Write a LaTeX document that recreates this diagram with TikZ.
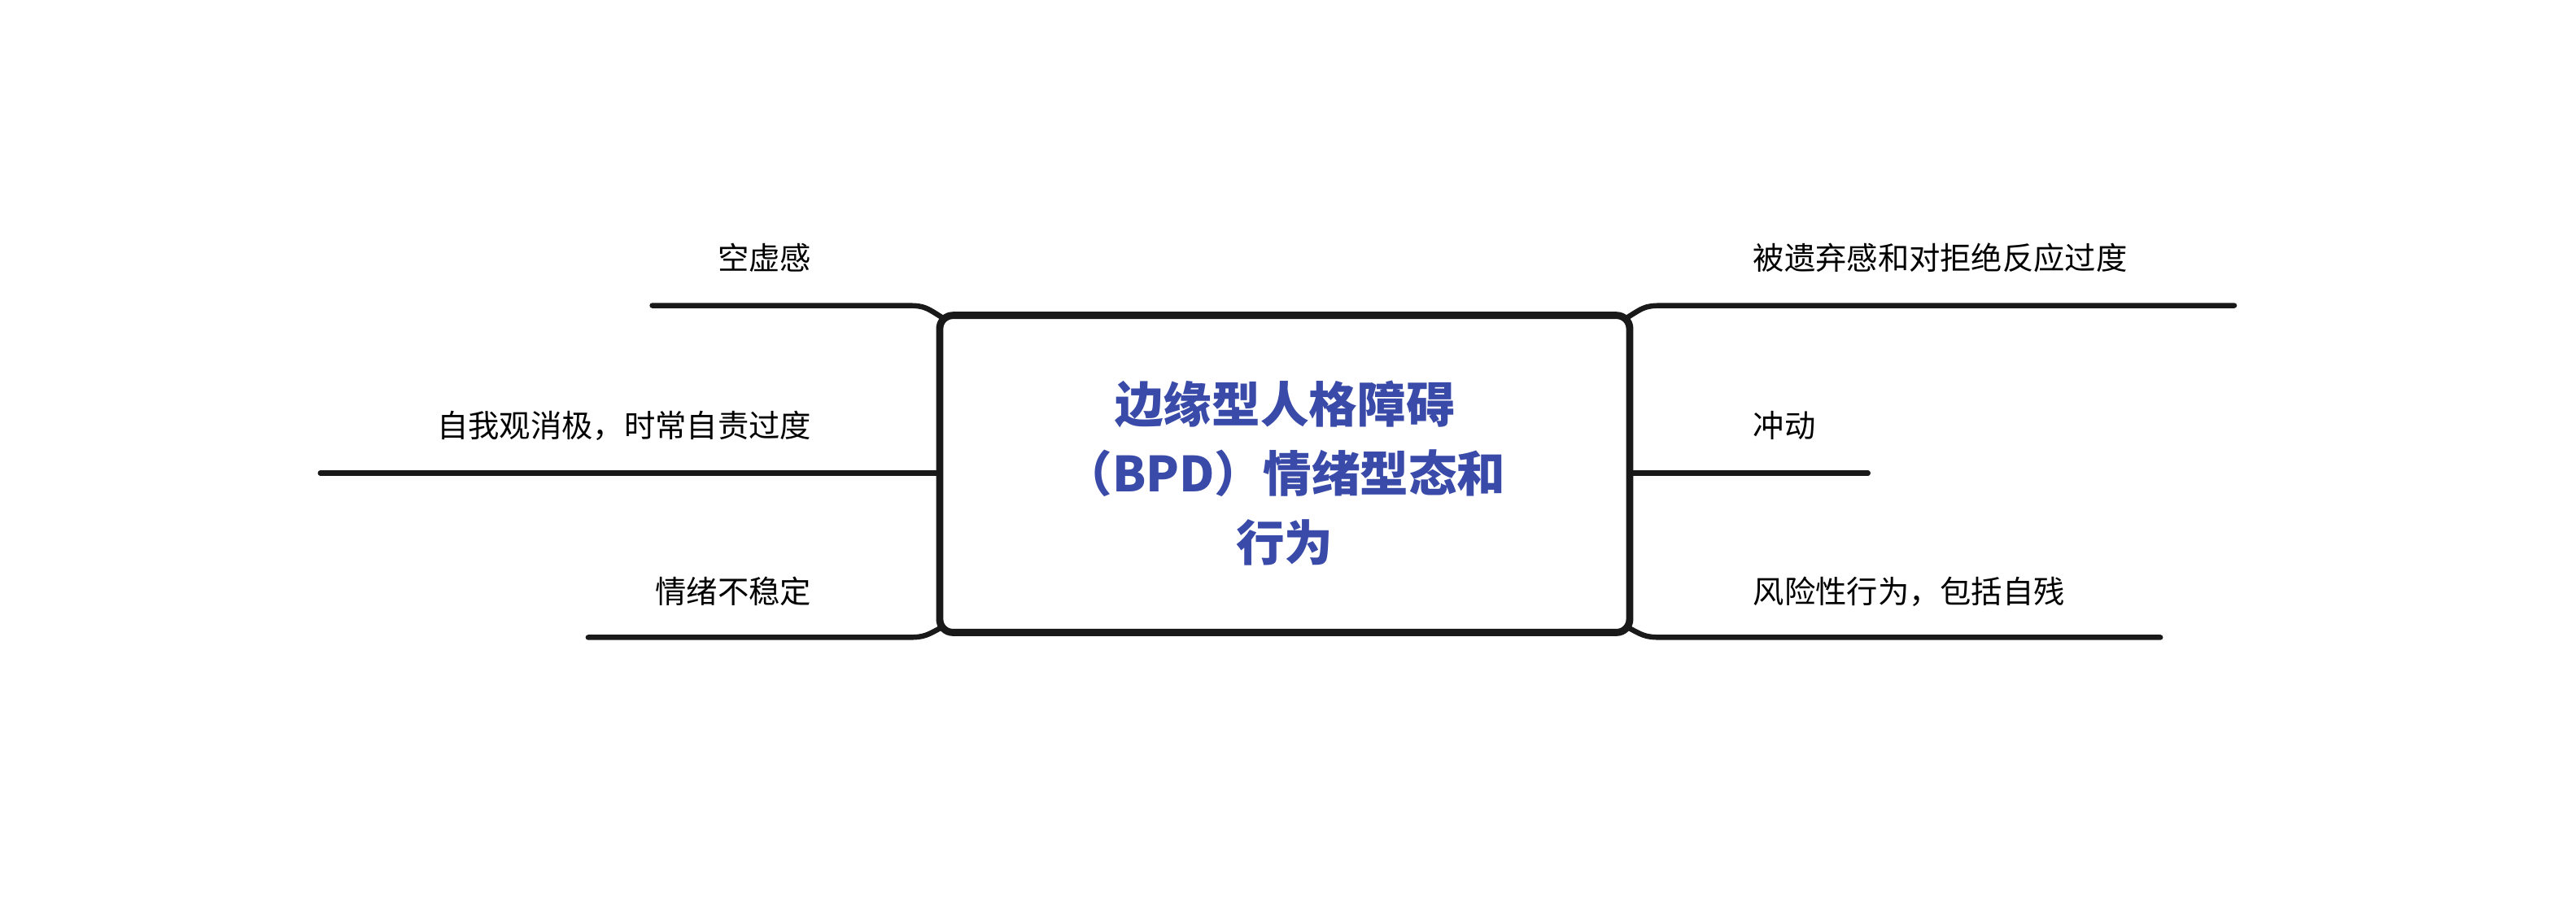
\documentclass[tikz,border=0pt]{standalone}
\usepackage{fontspec}
\newfontfamily\cjk{Noto Sans CJK SC}
\definecolor{tblue}{HTML}{3A4AA8}
\begin{document}
\begin{tikzpicture}[x=0.5mm,y=-0.5mm,
  br/.style={line width=1.6mm,draw=black!90,line cap=round},
  lab/.style={font=\cjk\fontsize{27}{30}\selectfont,inner sep=0pt},
  boxs/.style={draw=black!90,line width=2.2mm,rounded corners=4mm,minimum width=210mm,minimum height=96.5mm}]
\useasboundingbox (0,0) rectangle (1568,555);
\node[boxs] (c) at (782,288.5) {};
\node[font=\cjk\bfseries\fontsize{42}{60}\selectfont,text=tblue,align=center] (t) at (782,288) {边缘型人格障碍\\（BPD）情绪型态和\\行为};
% left
\coordinate (l1) at (397,186); \coordinate (l1e) at (548,186);
\coordinate (l2) at (195,288); \coordinate (l2e) at (572,288);
\coordinate (l3) at (358,388); \coordinate (l3e) at (548,388);
\draw[br] (l1) -- (l1e) .. controls (562,186) .. (573,193);
\draw[br] (l2) -- (l2e);
\draw[br] (l3) -- (l3e) .. controls (562,388) .. (573,382);
\node[lab,anchor=east] (a1) at (494,157) {空虚感};
\node[lab,anchor=east] (a2) at (494,259) {自我观消极，时常自责过度};
\node[lab,anchor=east] (a3) at (494,360) {情绪不稳定};
% right
\coordinate (r1) at (1360,186); \coordinate (r1e) at (1016,186);
\coordinate (r2) at (1137,288); \coordinate (r2e) at (992,288);
\coordinate (r3) at (1315,388); \coordinate (r3e) at (1016,388);
\draw[br] (r1) -- (r1e) .. controls (1002,186) .. (991,193);
\draw[br] (r2) -- (r2e);
\draw[br] (r3) -- (r3e) .. controls (1002,388) .. (991,382);
\node[lab,anchor=west] (b1) at (1067,157) {被遗弃感和对拒绝反应过度};
\node[lab,anchor=west] (b2) at (1067,259) {冲动};
\node[lab,anchor=west] (b3) at (1067,360) {风险性行为，包括自残};
\end{tikzpicture}
\end{document}
